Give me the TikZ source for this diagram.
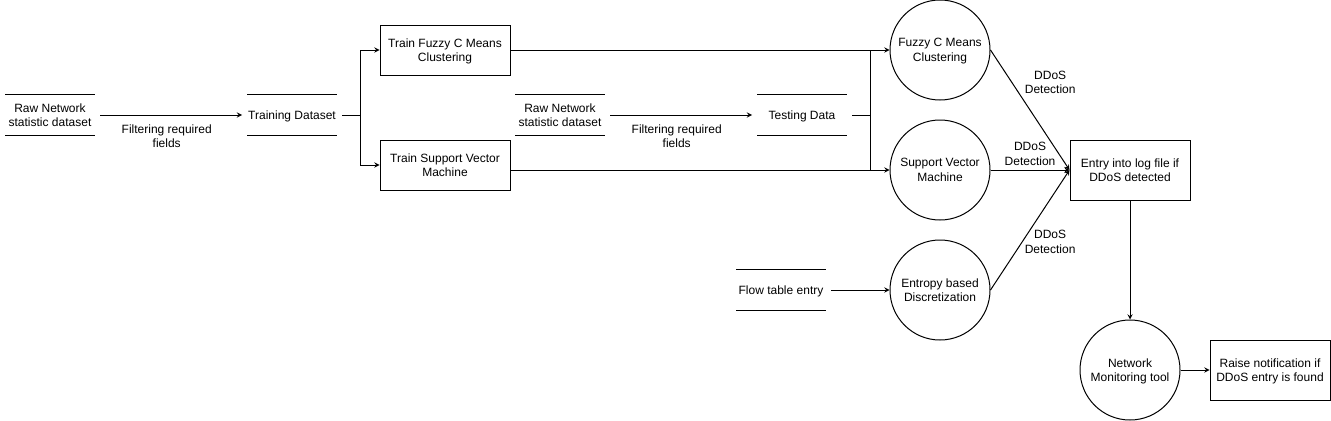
\documentclass[tikz,border=0pt]{standalone}
\usepackage{fontspec}
\setmainfont{Liberation Sans}
\usepackage{tikz}
\tikzset{ell/.style={circle,draw,minimum size=75pt,inner sep=0pt,align=center,text depth=-4pt}}
\tikzset{box/.style={rectangle,draw,minimum width=97.5pt,minimum height=37.5pt,inner sep=0pt,align=center,text depth=-4pt}}
\tikzset{store/.style={minimum width=67.5pt,minimum height=30pt,inner sep=0pt,outer xsep=3.75pt,align=center,text depth=-3pt}}
\tikzset{lbl/.style={align=center,inner sep=1pt}}

\begin{document}
\begin{tikzpicture}[>=stealth,x=0.75pt,y=-0.75pt,line width=0.75pt,font=\fontsize{9}{10.8}\selectfont]
    \useasboundingbox (0,0) rectangle (1331,421);

    \node[store] (raw1) at (50,115) {Raw Network\\statistic dataset};
    \node[store] (train) at (292,115) {Training Dataset};
    \node[box] (fcmtrain) at (445,50) {Train Fuzzy C Means\\Clustering};
    \node[box] (svmtrain) at (445,165) {Train Support Vector\\Machine};
    \node[store] (raw2) at (560,115) {Raw Network\\statistic dataset};
    \node[store] (test) at (802,115) {Testing Data};
    \node[store] (flow) at (781,290) {Flow table entry};
    \node[ell] (fcm) at (940,50) {Fuzzy C Means\\Clustering};
    \node[ell] (svm) at (940,170) {Support Vector\\Machine};
    \node[ell] (ent) at (940,290) {Entropy based\\Discretization};
    \node[box,minimum width=90pt,minimum height=45pt] (log) at (1130,170) {Entry into log file if\\DDoS detected};
    \node[ell] (nmt) at (1130,370) {Network\\Monitoring tool};
    \node[box,minimum width=90pt,minimum height=45pt] (notify) at (1270,370) {Raise notification if\\DDoS entry is found};
    \coordinate (split) at (360,115);
    \coordinate (join) at (870,115);

    % data store lines
    \foreach \s in {raw1,train,raw2,test,flow}
        \draw ([xshift=3.75pt]\s.north west) -- ([xshift=-3.75pt]\s.north east)
              ([xshift=3.75pt]\s.south west) -- ([xshift=-3.75pt]\s.south east);

    \draw [->] (raw1) to node[lbl,below=6pt,pos=0.47]{Filtering required\\fields} (train);
    \draw [] (train) to (split);
    \draw [->] (split) |- (fcmtrain);
    \draw [->] (split) |- (svmtrain);
    \draw [->] (raw2) to node[lbl,below=6pt,pos=0.47]{Filtering required\\fields} (test);
    \draw [->] (fcmtrain) to (fcm);
    \draw [->] (svmtrain.east |- svm) to (svm);
    \draw [] (test) to (join);
    \draw [] (join |- fcm) to (join |- svm);
    \draw [->] (flow) to (ent);
    \draw [->] (fcm.east) to node[lbl,pos=0.27,xshift=28.8pt]{DDoS\\Detection} (log.west);
    \draw [->] (svm) to node[lbl,above=2pt]{DDoS\\Detection} (log);
    \draw [->] (ent.east) to node[lbl,pos=0.4,xshift=21pt]{DDoS\\Detection} (log.west);
    \draw [->] (log) to (nmt);
    \draw [->] (nmt) to (notify);
\end{tikzpicture}
\end{document}
